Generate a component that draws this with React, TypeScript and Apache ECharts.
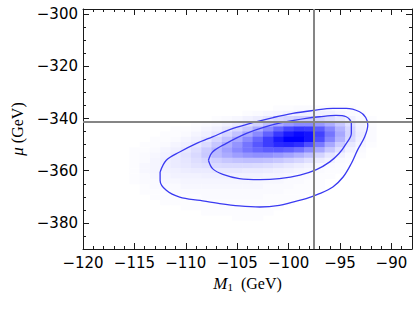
import React, { useEffect, useRef } from 'react';
import * as echarts from 'echarts';

// ---- axis ticks ----
const xMajorTicks = [-120, -115, -110, -105, -100, -95, -90];
const xMinorTicks = [-119, -118, -117, -116, -114, -113, -112, -111, -109, -108, -107, -106, -104, -103, -102, -101, -99, -98, -97, -96, -94, -93, -92, -91, -89];
const yMajorTicks = [-380, -360, -340, -320, -300];
const yMinorTicks = [-385, -375, -370, -365, -355, -350, -345, -335, -330, -325, -315, -310, -305];

// ---- crosshair (reference point) ----
const crossX = -97.6;
const crossY = -341.3;

// ---- density grid (intensity 0..100) ----
const densityX = [-115, -114, -113, -112, -111, -110, -109, -108, -107, -106, -105, -104, -103, -102, -101, -100, -99, -98, -97, -96, -95, -94, -93, -92, -91];
const densityY = [-336, -338, -340, -342, -344, -346, -348, -350, -352, -354, -356, -358, -360, -362, -364, -366, -368, -370, -372, -374, -376, -378];
const density = [
  [0, 0, 0, 0, 0, 0, 0, 0, 0, 0, 0, 0, 0, 0, 1, 1, 2, 2, 2, 2, 1, 1, 0, 0, 0],
  [0, 0, 0, 0, 0, 0, 0, 0, 0, 0, 0, 1, 2, 3, 4, 5, 6, 6, 6, 5, 3, 2, 1, 0, 0],
  [0, 0, 0, 0, 0, 0, 0, 0, 1, 2, 3, 5, 7, 10, 14, 17, 19, 19, 17, 13, 9, 5, 2, 1, 0],
  [0, 0, 0, 0, 0, 0, 1, 2, 3, 5, 8, 12, 17, 25, 33, 40, 45, 45, 40, 32, 22, 12, 5, 1, 0],
  [0, 0, 0, 0, 1, 1, 2, 4, 6, 10, 15, 22, 32, 46, 60, 72, 78, 76, 64, 47, 30, 16, 6, 2, 0],
  [0, 0, 0, 1, 1, 2, 4, 6, 10, 16, 24, 34, 46, 62, 78, 90, 96, 92, 74, 54, 34, 17, 7, 2, 0],
  [0, 0, 1, 1, 2, 4, 6, 10, 16, 24, 34, 46, 60, 76, 90, 100, 100, 92, 70, 48, 30, 15, 6, 2, 0],
  [0, 1, 1, 2, 4, 6, 9, 14, 22, 32, 42, 54, 66, 76, 84, 86, 82, 70, 52, 34, 20, 9, 4, 1, 0],
  [1, 1, 2, 4, 6, 9, 13, 20, 28, 37, 46, 54, 60, 64, 65, 62, 56, 46, 34, 22, 12, 5, 2, 0, 0],
  [1, 2, 3, 5, 8, 11, 15, 21, 27, 33, 38, 42, 44, 43, 40, 36, 31, 25, 17, 10, 5, 2, 1, 0, 0],
  [1, 2, 4, 6, 8, 10, 13, 16, 19, 22, 24, 25, 25, 24, 22, 19, 16, 12, 8, 5, 2, 1, 0, 0, 0],
  [1, 3, 4, 6, 8, 9, 11, 12, 14, 15, 15, 15, 14, 13, 11, 9, 7, 5, 3, 2, 1, 0, 0, 0, 0],
  [1, 3, 4, 5, 6, 7, 8, 8, 9, 9, 9, 8, 8, 7, 6, 5, 4, 3, 2, 1, 1, 0, 0, 0, 0],
  [1, 2, 3, 4, 5, 5, 5, 6, 6, 6, 5, 5, 5, 4, 4, 3, 2, 2, 1, 1, 0, 0, 0, 0, 0],
  [1, 2, 2, 3, 3, 4, 4, 4, 4, 4, 4, 4, 3, 3, 3, 2, 2, 1, 1, 0, 0, 0, 0, 0, 0],
  [0, 1, 2, 2, 2, 3, 3, 3, 3, 3, 3, 3, 3, 2, 2, 2, 1, 1, 1, 0, 0, 0, 0, 0, 0],
  [0, 1, 1, 1, 2, 2, 2, 2, 2, 2, 2, 2, 2, 2, 2, 1, 1, 1, 0, 0, 0, 0, 0, 0, 0],
  [0, 0, 1, 1, 1, 1, 1, 2, 2, 2, 2, 2, 2, 1, 1, 1, 1, 0, 0, 0, 0, 0, 0, 0, 0],
  [0, 0, 0, 1, 1, 1, 1, 1, 1, 1, 1, 1, 1, 1, 1, 1, 0, 0, 0, 0, 0, 0, 0, 0, 0],
  [0, 0, 0, 0, 0, 1, 1, 1, 1, 1, 1, 1, 1, 1, 1, 0, 0, 0, 0, 0, 0, 0, 0, 0, 0],
  [0, 0, 0, 0, 0, 0, 0, 1, 1, 1, 1, 1, 1, 1, 0, 0, 0, 0, 0, 0, 0, 0, 0, 0, 0],
  [0, 0, 0, 0, 0, 0, 0, 0, 0, 0, 1, 1, 1, 0, 0, 0, 0, 0, 0, 0, 0, 0, 0, 0, 0],
];
const cellHalfW = 0.5;
const cellHalfH = 1;

// ---- contours [M1, mu] ----
const outerContour = [
  [-112.5, -360.5], [-111.9, -356.0], [-110.6, -352.8], [-109.0, -349.6], [-107.4, -347.0],
  [-105.4, -343.8], [-103.5, -341.6], [-101.5, -339.6], [-99.6, -338.0], [-97.6, -336.9],
  [-95.7, -336.1], [-94.4, -336.1], [-93.1, -337.4], [-92.5, -339.6], [-92.3, -342.5],
  [-92.6, -347.0], [-93.3, -352.1], [-93.9, -357.2], [-94.7, -362.4], [-95.7, -366.2],
  [-97.0, -368.8], [-98.3, -370.7], [-99.6, -372.0], [-100.9, -373.3], [-102.8, -373.9],
  [-104.8, -373.5], [-106.7, -372.6], [-108.6, -371.4], [-110.6, -370.1], [-111.9, -367.5],
  [-112.5, -363.7], [-112.5, -360.5],
];
const innerContour = [
  [-107.8, -356.0], [-107.4, -352.8], [-106.1, -349.6], [-104.1, -345.7], [-102.2, -343.1],
  [-100.2, -341.2], [-98.3, -339.9], [-97.0, -339.3], [-95.4, -338.8], [-94.4, -339.3],
  [-93.9, -341.9], [-93.9, -345.7], [-94.4, -349.6], [-95.1, -353.4], [-96.0, -356.6],
  [-97.3, -359.6], [-98.9, -361.7], [-100.9, -363.0], [-102.8, -363.4], [-104.8, -363.0],
  [-106.4, -361.4], [-107.4, -359.2], [-107.8, -356.0],
];

const xMin = -120;
const xMax = -88;
const yMin = -390;
const yMax = -298;

const fmt = (v: number) => (v < 0 ? '\u2212' + Math.abs(v) : String(v));

export default function App() {
  const ref = useRef<HTMLDivElement>(null);
  useEffect(() => {
    if (!ref.current) return;
    const chart = echarts.init(ref.current, undefined, { renderer: 'svg' });

    const cells: number[][] = [];
    density.forEach((row, ri) => {
      row.forEach((v, ci) => {
        if (v > 0) cells.push([densityX[ci], densityY[ri], v]);
      });
    });

    const frameColor = '#1a1a1a';
    const serif = 'Liberation Serif';
    const mkX = (pos: string, ticks: number[], len: number, line: boolean, label: boolean, extra: any = {}) => ({
      type: 'value', gridIndex: 0, position: pos, min: xMin, max: xMax,
      axisLine: { show: line, onZero: false, lineStyle: { color: frameColor, width: 1 } },
      axisTick: { show: true, inside: true, length: len, customValues: ticks, lineStyle: { color: frameColor, width: 1 } },
      axisLabel: label
        ? { show: true, customValues: ticks, formatter: fmt, fontFamily: 'DejaVu Sans', fontSize: 15, color: '#000', margin: 6 }
        : { show: false },
      splitLine: { show: false },
      ...extra,
    });
    const mkY = (pos: string, ticks: number[], len: number, line: boolean, label: boolean, extra: any = {}) => ({
      type: 'value', gridIndex: 0, position: pos, min: yMin, max: yMax,
      axisLine: { show: line, onZero: false, lineStyle: { color: frameColor, width: 1 } },
      axisTick: { show: true, inside: true, length: len, customValues: ticks, lineStyle: { color: frameColor, width: 1 } },
      axisLabel: label
        ? { show: true, customValues: ticks, formatter: fmt, fontFamily: 'DejaVu Sans', fontSize: 15, color: '#000', margin: 5 }
        : { show: false },
      splitLine: { show: false },
      ...extra,
    });

    chart.setOption({
      animation: false,
      backgroundColor: '#fff',
      grid: { left: 83, right: 4, top: 9, bottom: 63, containLabel: false, outerBoundsMode: 'none' },
      xAxis: [
        mkX('bottom', xMajorTicks, 6, true, true, {
          name: '{i|M}{s|1}{n|  (GeV)}',
          nameLocation: 'middle',
          nameGap: 24,
          nameTextStyle: {
            fontFamily: serif, fontSize: 16, color: '#000',
            rich: {
              i: { fontFamily: serif, fontStyle: 'italic', fontSize: 17, color: '#000' },
              s: { fontFamily: serif, fontSize: 11, color: '#000', padding: [8, 0, 0, 0] },
              n: { fontFamily: serif, fontSize: 16, color: '#000' },
            },
          },
        }),
        mkX('bottom', xMinorTicks, 3, false, false),
        mkX('top', xMajorTicks, 6, true, false),
        mkX('top', xMinorTicks, 3, false, false),
      ],
      yAxis: [
        mkY('left', yMajorTicks, 6, true, true, {
          name: '{i|\u03bc}{n| (GeV)}',
          nameLocation: 'middle',
          nameGap: 50,
          nameTextStyle: {
            fontFamily: serif, fontSize: 16, color: '#000',
            rich: {
              i: { fontFamily: serif, fontStyle: 'italic', fontSize: 17, color: '#000' },
              n: { fontFamily: serif, fontSize: 16, color: '#000' },
            },
          },
        }),
        mkY('left', yMinorTicks, 3, false, false),
        mkY('right', yMajorTicks, 6, true, false),
        mkY('right', yMinorTicks, 3, false, false),
      ],
      series: [
        {
          type: 'custom',
          xAxisIndex: 0,
          yAxisIndex: 0,
          silent: true,
          clip: true,
          encode: { x: 0, y: 1 },
          data: cells,
          renderItem: (params: any, api: any) => {
            const x = api.value(0);
            const y = api.value(1);
            const v = api.value(2);
            const p0 = api.coord([x - cellHalfW, y + cellHalfH]);
            const p1 = api.coord([x + cellHalfW, y - cellHalfH]);
            const c = Math.round(255 * (1 - v / 100));
            return {
              type: 'rect',
              shape: { x: p0[0], y: p0[1], width: p1[0] - p0[0] + 0.5, height: p1[1] - p0[1] + 0.5 },
              style: { fill: `rgb(${c},${c},255)` },
            };
          },
        },
        {
          type: 'line',
          xAxisIndex: 0,
          yAxisIndex: 0,
          data: outerContour,
          smooth: 0.35,
          symbol: 'none',
          silent: true,
          lineStyle: { color: '#3a3af2', width: 1.3 },
          z: 3,
        },
        {
          type: 'line',
          xAxisIndex: 0,
          yAxisIndex: 0,
          data: innerContour,
          smooth: 0.35,
          symbol: 'none',
          silent: true,
          lineStyle: { color: '#3a3af2', width: 1.3 },
          z: 3,
          markLine: {
            silent: true,
            symbol: ['none', 'none'],
            label: { show: false },
            lineStyle: { color: '#858585', width: 2, type: 'solid' },
            data: [{ xAxis: crossX }, { yAxis: crossY }],
          },
        },
      ],
    });
    return () => chart.dispose();
  }, []);
  return <div ref={ref} style={{ position: 'fixed', left: 0, top: 0, width: 416, height: 312 }} />;
}
